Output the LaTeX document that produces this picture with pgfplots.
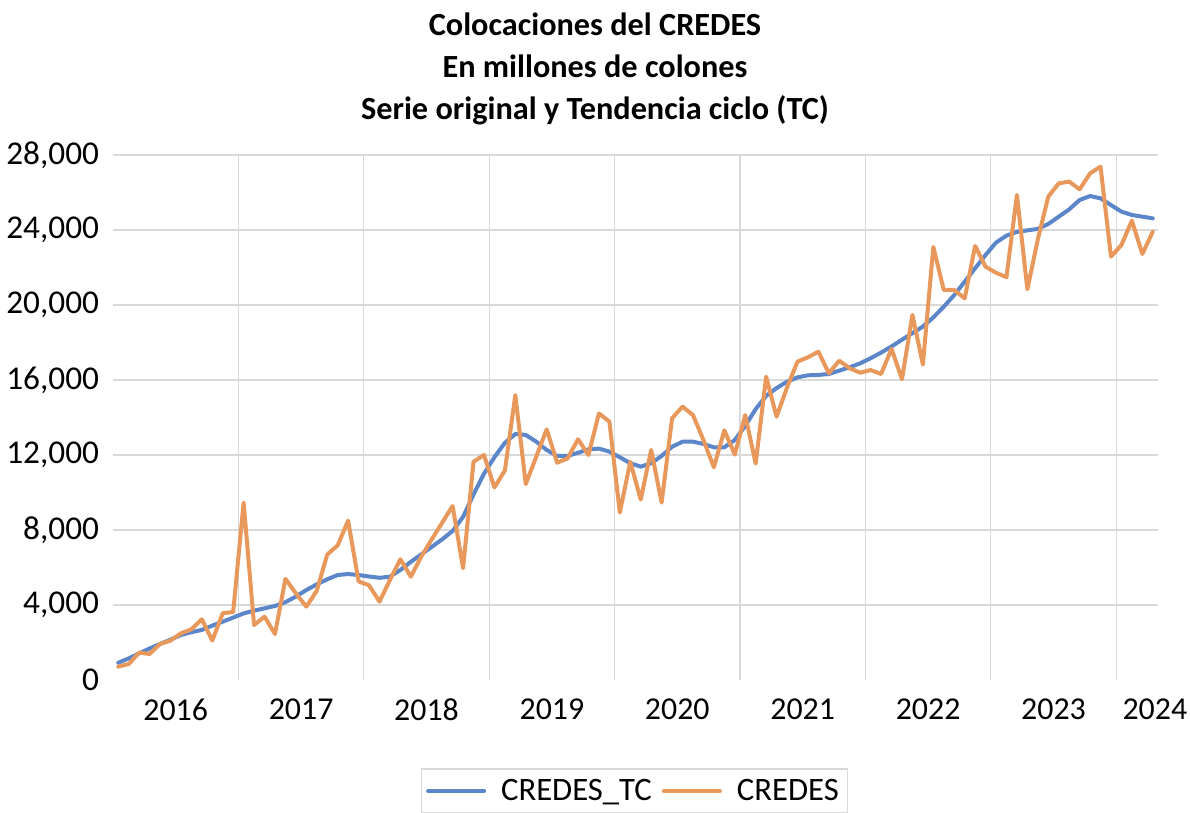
\documentclass[border=0pt]{standalone}
\usepackage{fontspec}
\setmainfont{Carlito}
\usepackage{pgfplots}
\usepackage{pgfplotstable}
\pgfplotsset{compat=1.18}

\definecolor{tcblue}{RGB}{91,134,201}
\definecolor{crorange}{RGB}{232,152,90}
\definecolor{gridgray}{RGB}{217,217,217}

% i = month index, 0 = Jan 2016
\pgfplotstableread{
i tc cr
0 920 710
1 1150 850
2 1420 1460
3 1680 1390
4 1920 1920
5 2150 2100
6 2400 2490
7 2550 2700
8 2670 3240
9 2900 2100
10 3110 3560
11 3330 3630
12 3550 9460
13 3700 2930
14 3820 3380
15 3950 2450
16 4150 5400
17 4450 4620
18 4800 3910
19 5100 4760
20 5370 6690
21 5600 7180
22 5650 8500
23 5600 5260
24 5520 5050
25 5450 4180
26 5510 5330
27 5870 6440
28 6300 5510
29 6700 6580
30 7100 7500
31 7500 8390
32 7950 9280
33 8700 5960
34 9900 11640
35 11000 12000
36 11880 10270
37 12650 11170
38 13120 15200
39 13070 10450
40 12710 11910
41 12270 13370
42 11950 11590
43 11950 11820
44 12120 12840
45 12300 12000
46 12340 14220
47 12180 13780
48 11880 8930
49 11560 11640
50 11380 9620
51 11560 12270
52 11950 9460
53 12440 13960
54 12710 14580
55 12710 14130
56 12590 12800
57 12410 11340
58 12410 13320
59 12800 12020
60 13550 14130
61 14450 11540
62 15150 16180
63 15570 14040
64 15910 15600
65 16140 16980
66 16250 17210
67 16270 17510
68 16320 16360
69 16500 17030
70 16680 16620
71 16890 16390
72 17160 16530
73 17460 16320
74 17790 17660
75 18150 16040
76 18500 19470
77 18850 16820
78 19340 23100
79 19910 20800
80 20530 20800
81 21240 20350
82 21960 23150
83 22670 22040
84 23330 21720
85 23700 21480
86 23900 25870
87 23980 20840
88 24060 23500
89 24320 25780
90 24710 26490
91 25100 26580
92 25600 26170
93 25810 27020
94 25690 27380
95 25330 22580
96 24980 23200
97 24800 24500
98 24710 22720
99 24620 23910
}\data

\begin{document}
\begin{tikzpicture}
\useasboundingbox (0,0) rectangle (595bp,406.5bp);
\node[align=center, font=\fontsize{16.2}{21}\selectfont\bfseries] at (297.5bp,372bp)
  {Colocaciones del CREDES\\En millones de colones\\Serie original y Tendencia ciclo (TC)};
\begin{axis}[
  at={(56.5bp,66.5bp)}, anchor=south west,
  scale only axis,
  width=522.5bp, height=262.5bp,
  xmin=-0.5, xmax=99.5,
  ymin=0, ymax=28000,
  axis line style={draw=none},
  axis x line*=bottom,
  axis y line*=left,
  xtick={5.5,17.5,29.5,41.5,53.5,65.5,77.5,89.5,99.2},
  xticklabels={2016,2017,2018,2019,2020,2021,2022,2023,2024},
  minor xtick={11.5,23.5,35.5,47.5,59.5,71.5,83.5,95.5},
  ytick={4000,8000,12000,16000,20000,24000,28000},
  extra y ticks={0},
  extra y tick style={grid=none},
  major tick length=0pt, minor tick length=0pt,
  xminorgrids=true, xmajorgrids=false, ymajorgrids=true,
  grid style={gridgray, line width=0.6bp},
  minor grid style={gridgray, line width=0.6bp},
  scaled y ticks=false,
  /pgf/number format/.cd, fixed, precision=0, 1000 sep={,}, assume math mode=true,
  /pgfplots/.cd,
  xticklabel style={font=\fontsize{16}{19}\selectfont, yshift=-6bp},
  yticklabel style={font=\fontsize{16.7}{19}\selectfont, xshift=-3.5bp},
  legend style={at={(0.499,-0.2114)}, anchor=center, legend columns=2,
    draw=gridgray, line width=0.6bp, font=\fontsize{16.4}{19}\selectfont,
    inner xsep=2.5bp, inner ysep=3bp,
    /tikz/every odd column/.append style={column sep=5.5bp},
    /tikz/every even column/.append style={column sep=3bp}},
  legend cell align=left,
  legend image code/.code={\draw[#1, line width=2bp] (0bp,0bp) -- (28bp,0bp);},
]
\addplot[tcblue, line width=2bp, line join=round, line cap=round] table[x=i, y=tc] {\data};
\addlegendentry{CREDES\_TC}
\addplot[crorange, line width=2bp, line join=round, line cap=round] table[x=i, y=cr] {\data};
\addlegendentry{CREDES}
\end{axis}
\end{tikzpicture}
\end{document}
